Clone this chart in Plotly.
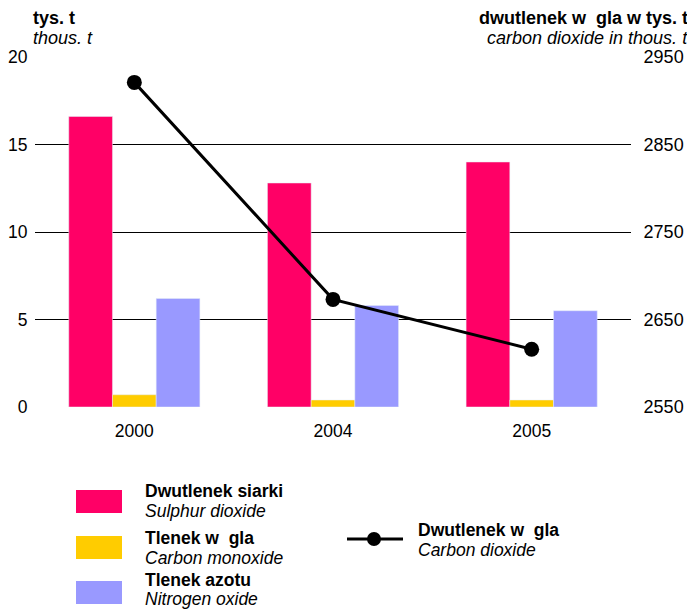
import plotly.graph_objects as go

years = ["2000", "2004", "2005"]
sulphur_dioxide = [16.6, 12.8, 14.0]
carbon_monoxide = [0.7, 0.4, 0.4]
nitrogen_oxide = [6.2, 5.8, 5.5]
carbon_dioxide = [2921, 2673, 2616]

left_ticks = [0, 5, 10, 15, 20]
right_ticks = [2550, 2650, 2750, 2850, 2950]

RED = "#FF0066"
YELLOW = "#FFCC00"
BLUE = "#9999FF"
FONT = "Liberation Sans, Arial, sans-serif"

# page offset of the plot div (browser default body margin)
OFF = 8
W, H = 695 - OFF, 609 - OFF
L, R, T, B = 35 - OFF, 64, 57 - OFF, 202
PW = W - L - R
PH = H - T - B


def px(x):
    return (x - OFF - L) / PW


def py(y):
    return (H - B - (y - OFF)) / PH


fig = go.Figure()
fig.add_trace(go.Bar(x=years, y=sulphur_dioxide, marker_color=RED, name="Dwutlenek siarki"))
fig.add_trace(go.Bar(x=years, y=carbon_monoxide, marker_color=YELLOW, name="Tlenek węgla"))
fig.add_trace(go.Bar(x=years, y=nitrogen_oxide, marker_color=BLUE, name="Tlenek azotu"))
fig.add_trace(go.Scatter(x=years, y=carbon_dioxide, yaxis="y2", mode="lines+markers",
                         line=dict(color="black", width=3),
                         marker=dict(color="black", size=15),
                         name="Dwutlenek węgla"))

fig.update_layout(
    width=W, height=H, autosize=False,
    margin=dict(l=L, r=R, t=T, b=B),
    paper_bgcolor="white", plot_bgcolor="white",
    showlegend=False,
    barmode="group", bargap=0.34, bargroupgap=0,
    font=dict(family=FONT, size=17.5, color="black"),
    xaxis=dict(type="category", showgrid=False, zeroline=False, showline=False,
               ticks="outside", ticklen=8, tickcolor="rgba(0,0,0,0)",
               tickfont=dict(size=17.5)),
    yaxis=dict(range=[0, 20], tickvals=left_ticks, showgrid=True, gridcolor="black",
               gridwidth=1, zeroline=False, showline=False, automargin=False,
               ticks="outside", ticklen=3, tickcolor="rgba(0,0,0,0)",
               tickfont=dict(size=17.5)),
    yaxis2=dict(range=[2550, 2950], tickvals=right_ticks, overlaying="y", side="right",
                showgrid=False, zeroline=False, showline=False, automargin=False,
                ticks="outside", ticklen=8, tickcolor="rgba(0,0,0,0)",
                tickfont=dict(size=18)),
)

annotations = [
    dict(text="<b>tys. t</b>", x=px(31), y=py(18), xanchor="left"),
    dict(text="<i>thous. t</i>", x=px(31), y=py(38), xanchor="left"),
    dict(text="<b>dwutlenek w\u00a0\u00a0gla w tys. t</b>", x=px(690), y=py(18), xanchor="right"),
    dict(text="<i>carbon dioxide in thous. t</i>", x=px(690), y=py(38), xanchor="right"),
]
legend_texts = [
    ("<b>Dwutlenek siarki</b>", 143, 491),
    ("<i>Sulphur dioxide</i>", 143, 511),
    ("<b>Tlenek w\u00a0\u00a0gla</b>", 143, 538),
    ("<i>Carbon monoxide</i>", 143, 558),
    ("<b>Tlenek azotu</b>", 143, 580),
    ("<i>Nitrogen oxide</i>", 143, 599),
    ("<b>Dwutlenek w\u00a0\u00a0gla</b>", 416, 530),
    ("<i>Carbon dioxide</i>", 416, 550),
]
for t, x, y in legend_texts:
    annotations.append(dict(text=t, x=px(x), y=py(y), xanchor="left", font=dict(size=17.5)))

for a in annotations:
    a.setdefault("font", dict(size=18))
    a.update(xref="paper", yref="paper", yanchor="middle", showarrow=False)
fig.update_layout(annotations=annotations)

shapes = []
for col, y0, y1 in [(RED, 490, 513), (YELLOW, 536, 559), (BLUE, 581, 604)]:
    shapes.append(dict(type="rect", xref="paper", yref="paper",
                       x0=px(76), x1=px(122), y0=py(y1), y1=py(y0),
                       fillcolor=col, line=dict(width=0)))
shapes.append(dict(type="line", xref="paper", yref="paper",
                   x0=px(347), x1=px(403), y0=py(539), y1=py(539),
                   line=dict(color="black", width=3)))
shapes.append(dict(type="circle", xref="paper", yref="paper",
                   x0=px(367), x1=px(381), y0=py(546), y1=py(532),
                   fillcolor="black", line=dict(width=0)))
fig.update_layout(shapes=shapes)

fig.write_html("out.html")
